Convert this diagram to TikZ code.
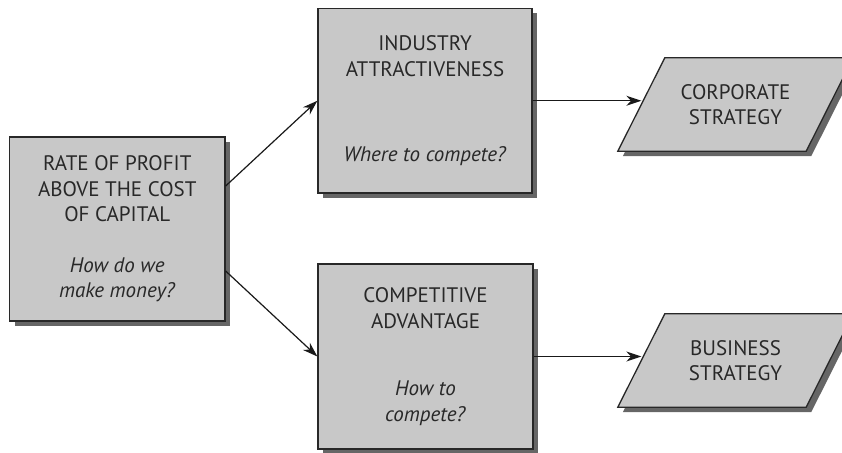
\documentclass[tikz,border=0pt]{standalone}
\usepackage{fontspec}
\setmainfont{PT Sans}
\usetikzlibrary{shadows,arrows.meta,backgrounds}
\definecolor{boxgray}{RGB}{200,200,200}
\definecolor{shadowgray}{RGB}{102,102,102}
\definecolor{inkgray}{RGB}{40,40,40}
\begin{document}
\begin{tikzpicture}[x=1pt,y=-1pt,
  shaded/.style={draw=inkgray,line width=1.3pt,fill=boxgray,
    drop shadow={shadow xshift=5pt,shadow yshift=-5pt,fill=shadowgray,opacity=1}},
  box/.style={shaded,text=inkgray,align=center,inner sep=0pt},
  slanted/.style={text=inkgray,align=center,inner sep=0pt,
    minimum width=188pt,minimum height=93pt},
  link/.style={draw=black!90,line width=1.2pt,-{Stealth[length=15pt,width=10pt]}}]

\useasboundingbox (0,0) rectangle (842,452);
\fontsize{21}{25.5}\selectfont

\node[box,minimum width=215.5pt,minimum height=184pt] (rate) at (117.25,229)
  {RATE OF PROFIT\\ABOVE THE COST\\OF CAPITAL\\[25pt]\textit{How do we}\\\textit{make money?}};
\node[box,minimum width=214pt,minimum height=184.5pt] (industry) at (425,100.75)
  {INDUSTRY\\ATTRACTIVENESS\\[60pt]\textit{Where to compete?}};
\node[box,minimum width=215pt,minimum height=185pt] (advantage) at (425.5,356.5)
  {COMPETITIVE\\ADVANTAGE\\[42pt]\textit{How to}\\\textit{compete?}};
\node[slanted] (corporate) at (735.5,104.5) {CORPORATE\\STRATEGY};
\node[slanted] (business) at (735.5,360.5) {BUSINESS\\STRATEGY};

\begin{scope}[on background layer]
\foreach \n in {corporate,business}
  \draw[shaded] ([xshift=-23.5pt]\n.south west) -- ([xshift=-23.5pt]\n.south east)
    -- ([xshift=23.5pt]\n.north east) -- ([xshift=23.5pt]\n.north west) -- cycle;
\end{scope}

\draw[link] ([yshift=43pt]rate.east) -- (industry.west);
\draw[link] ([yshift=-42pt]rate.east) -- (advantage.west);
\draw[link] (industry.east) -- (industry.east -| corporate.west);
\draw[link] (advantage.east) -- (advantage.east -| business.west);

\end{tikzpicture}
\end{document}
